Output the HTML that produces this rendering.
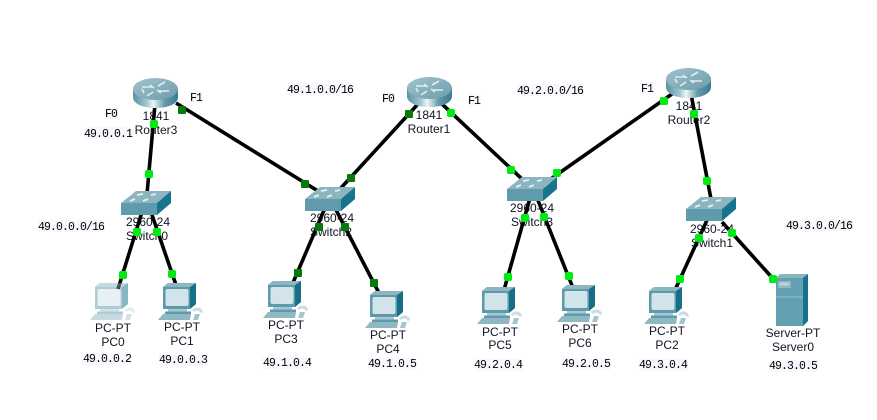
<!DOCTYPE html>
<html>
<head>
<meta charset="utf-8">
<style>
html,body{margin:0;padding:0;background:#fff;}
svg{display:block;}
.n{font-family:"Liberation Sans",sans-serif;font-size:12px;fill:#101522;text-anchor:middle;}
.ip{font-family:"Liberation Mono",monospace;font-size:11.5px;letter-spacing:-0.9px;fill:#000;text-anchor:middle;}
.bg{fill:#f8f9ff;}
.l{stroke:#000;stroke-width:3.6;fill:none;}
.g{fill:#00ea14;}
.d{fill:#067a0a;}
</style>
</head>
<body>
<svg width="877" height="420" viewBox="0 0 877 420" xmlns="http://www.w3.org/2000/svg">
<defs>
<linearGradient id="rs" x1="0" x2="1" y1="0" y2="0">
<stop offset="0" stop-color="#5a92a2"/>
<stop offset=".3" stop-color="#9cc5cf"/>
<stop offset=".45" stop-color="#eef6f7"/>
<stop offset=".7" stop-color="#659bab"/>
<stop offset="1" stop-color="#3a7a8e"/>
</linearGradient>
<linearGradient id="rt" x1="0" x2="1" y1="0" y2="1">
<stop offset="0" stop-color="#a2c4ce"/>
<stop offset="1" stop-color="#6b9bab"/>
</linearGradient>
<g id="router">
<path d="M0 11 V19 C0 26 10 30 22.500 30 C35 30 45 26 45 19 V11 Z" fill="url(#rs)"/>
<ellipse cx="22.500" cy="11" rx="22.500" ry="11" fill="url(#rt)"/>
<path d="M9 9 L19 9 M17 7 L21 10 M36 13 L26 13 M28 15 L24 12 M25 8 L32 4 M14 18 L20 14 M11 15 L9 11" stroke="#dfecf0" stroke-width="1.600" fill="none"/>
</g>
<g id="switch">
<path d="M0 12 L15 0 H50 L36 12 Z" fill="#8db5c0"/>
<path d="M36 12 L50 0 V12 L36 24 Z" fill="#16748c"/>
<rect x="0" y="12" width="36" height="12" fill="#609bad"/>
<path d="M9 10 L14 8 M22 10 L27 8 M16 4 L22 3 M30 4 L35 3" stroke="#e6f0f2" stroke-width="1.800"/>
</g>
<g id="pc">
<path d="M5 4 L10 0 H38 V21 L32 26 H5 Z" fill="#5e9aac"/>
<path d="M32 4 L38 0 V21 L32 26 Z" fill="#176f87"/>
<path d="M5 4 L10 0 H38 L32 4 Z" fill="#8bb6c2"/>
<rect x="7.500" y="6" width="23" height="17" rx="2" fill="#d3e3ea"/>
<rect x="10" y="26" width="19" height="2.500" fill="#a7c8d1"/>
<rect x="7" y="28.500" width="26" height="2.500" fill="#5e9aac"/>
<path d="M5 31 H33 L32 37 H0 Z" fill="#8fb8c3"/>
<path d="M34 27 C38 23 44 24 45 29 L43 30 C41 27 38 27 36 29 Z" fill="#c9dde3"/>
<path d="M37 31 H42 L40 37 H35 Z" fill="#a4c5ce"/>
</g>
<g id="server">
<path d="M0 4 L4 0 H32 V47 L27 52 H0 Z" fill="#62a0b2"/>
<path d="M27 4 L32 0 V47 L27 52 Z" fill="#12748c"/>
<path d="M0 4 L4 0 H32 L27 4 Z" fill="#8ab5c1"/>
<rect x="2" y="7" width="13" height="7" fill="#8fb8c4"/>
<rect x="3" y="8.500" width="10" height="3" fill="#b8d3db"/>
<rect x="0" y="22" width="27" height="2" fill="#7fb0be"/>
</g>
</defs>

<!-- labels -->
<g>
<rect class="bg" x="105" y="107" width="13" height="12"/><text class="ip" x="111" y="117">F0</text>
<rect class="bg" x="190" y="91" width="13" height="12"/><text class="ip" x="196" y="101">F1</text>
<rect class="bg" x="287" y="83" width="67" height="12"/><text class="ip" x="320" y="93">49.1.0.0/16</text>
<rect class="bg" x="382" y="92" width="13" height="12"/><text class="ip" x="388" y="102">F0</text>
<rect class="bg" x="468" y="94" width="13" height="12"/><text class="ip" x="474" y="104">F1</text>
<rect class="bg" x="517" y="84" width="67" height="12"/><text class="ip" x="550" y="94">49.2.0.0/16</text>
<rect class="bg" x="641" y="82" width="13" height="12"/><text class="ip" x="647" y="92">F1</text>
<rect class="bg" x="84" y="127" width="49" height="12"/><text class="ip" x="108" y="137">49.0.0.1</text>
<rect class="bg" x="38" y="220" width="67" height="12"/><text class="ip" x="71" y="230">49.0.0.0/16</text>
<rect class="bg" x="786" y="219" width="67" height="12"/><text class="ip" x="819" y="229">49.3.0.0/16</text>

<rect class="bg" x="82" y="353" width="49" height="12"/><text class="ip" x="107" y="362">49.0.0.2</text>
<rect class="bg" x="159" y="354" width="49" height="12"/><text class="ip" x="183" y="363">49.0.0.3</text>
<rect class="bg" x="262" y="357" width="49" height="12"/><text class="ip" x="287" y="366">49.1.0.4</text>
<rect class="bg" x="368" y="358" width="49" height="12"/><text class="ip" x="392" y="367">49.1.0.5</text>
<rect class="bg" x="474" y="359" width="49" height="12"/><text class="ip" x="498" y="368">49.2.0.4</text>
<rect class="bg" x="562" y="358" width="49" height="12"/><text class="ip" x="586" y="367">49.2.0.5</text>
<rect class="bg" x="639" y="359" width="49" height="12"/><text class="ip" x="663" y="368">49.3.0.4</text>
<rect class="bg" x="769" y="360" width="49" height="12"/><text class="ip" x="793" y="369">49.3.0.5</text>

<text class="n" x="156" y="120">1841</text><text class="n" x="156" y="134">Router3</text>
<text class="n" x="429" y="119">1841</text><text class="n" x="429" y="133">Router1</text>
<text class="n" x="689" y="110">1841</text><text class="n" x="689" y="124">Router2</text>
<text class="n" x="148" y="226">2960-24</text><text class="n" x="147" y="240">Switch0</text>
<text class="n" x="332" y="222">2960-24</text><text class="n" x="331" y="236">Switch2</text>
<text class="n" x="532" y="212">2960-24</text><text class="n" x="532" y="226">Switch3</text>
<text class="n" x="712" y="233">2960-24</text><text class="n" x="712" y="247">Switch1</text>

<text class="n" x="113" y="332">PC-PT</text><text class="n" x="113" y="346">PC0</text>
<text class="n" x="182" y="331">PC-PT</text><text class="n" x="182" y="345">PC1</text>
<text class="n" x="286" y="329">PC-PT</text><text class="n" x="286" y="343">PC3</text>
<text class="n" x="388" y="339">PC-PT</text><text class="n" x="388" y="353">PC4</text>
<text class="n" x="500" y="336">PC-PT</text><text class="n" x="500" y="349">PC5</text>
<text class="n" x="580" y="333">PC-PT</text><text class="n" x="580" y="347">PC6</text>
<text class="n" x="667" y="335">PC-PT</text><text class="n" x="667" y="349">PC2</text>
<text class="n" x="793" y="337">Server-PT</text><text class="n" x="793" y="351">Server0</text>
</g>

<!-- links -->
<g class="l">
<line x1="155" y1="104" x2="147" y2="194"/>
<line x1="176" y1="103" x2="318" y2="191"/>
<line x1="418" y1="104" x2="340" y2="189"/>
<line x1="442" y1="104" x2="522" y2="179"/>
<line x1="672" y1="94" x2="545" y2="183"/>
<line x1="691" y1="94" x2="711" y2="199"/>
<line x1="142" y1="212" x2="118" y2="289"/>
<line x1="151" y1="212" x2="176" y2="285"/>
<line x1="325" y1="208" x2="292" y2="285"/>
<line x1="335" y1="208" x2="379" y2="293"/>
<line x1="530" y1="198" x2="504" y2="290"/>
<line x1="537" y1="198" x2="573" y2="288"/>
<line x1="708" y1="218" x2="675" y2="290"/>
<line x1="722" y1="222" x2="776" y2="282"/>
</g>

<!-- devices -->
<use href="#router" x="133" y="78"/>
<use href="#router" x="407" y="77"/>
<use href="#router" x="666" y="68"/>
<use href="#switch" x="121" y="191"/>
<use href="#switch" x="305" y="187"/>
<use href="#switch" x="507" y="177"/>
<use href="#switch" x="686" y="197"/>
<use href="#pc" x="90" y="283" opacity=".5"/>
<use href="#pc" x="158" y="283"/>
<use href="#pc" x="263" y="281"/>
<use href="#pc" x="365" y="291"/>
<use href="#pc" x="477" y="287"/>
<use href="#pc" x="557" y="285"/>
<use href="#pc" x="644" y="287"/>
<use href="#server" x="776" y="274"/>

<!-- link lights -->
<g class="g">
<rect x="150" y="120" width="8" height="8" rx="2"/>
<rect x="145" y="170" width="8" height="8" rx="2"/>
<rect x="133" y="228" width="8" height="8" rx="2"/>
<rect x="153" y="228" width="8" height="8" rx="2"/>
<rect x="119" y="271" width="8" height="8" rx="2"/>
<rect x="168" y="270" width="8" height="8" rx="2"/>
<rect x="447" y="109" width="8" height="8" rx="2"/>
<rect x="507" y="166" width="8" height="8" rx="2"/>
<rect x="553" y="169" width="8" height="8" rx="2"/>
<rect x="660" y="97" width="8" height="8" rx="2"/>
<rect x="690" y="110" width="8" height="8" rx="2"/>
<rect x="703" y="177" width="8" height="8" rx="2"/>
<rect x="521" y="214" width="8" height="8" rx="2"/>
<rect x="540" y="213" width="8" height="8" rx="2"/>
<rect x="504" y="273" width="8" height="8" rx="2"/>
<rect x="565" y="272" width="8" height="8" rx="2"/>
<rect x="695" y="234" width="8" height="8" rx="2"/>
<rect x="728" y="229" width="8" height="8" rx="2"/>
<rect x="676" y="275" width="8" height="8" rx="2"/>
<rect x="769" y="275" width="8" height="8" rx="2"/>
</g>
<g class="d">
<rect x="178" y="106" width="8" height="8" rx="1"/>
<rect x="301" y="180" width="8" height="8" rx="1"/>
<rect x="405" y="110" width="8" height="8" rx="1"/>
<rect x="347" y="174" width="8" height="8" rx="1"/>
<rect x="315" y="223" width="8" height="8" rx="1"/>
<rect x="341" y="223" width="8" height="8" rx="1"/>
<rect x="294" y="269" width="8" height="8" rx="1"/>
<rect x="370" y="279" width="8" height="8" rx="1"/>
</g>
</svg>
</body>
</html>
